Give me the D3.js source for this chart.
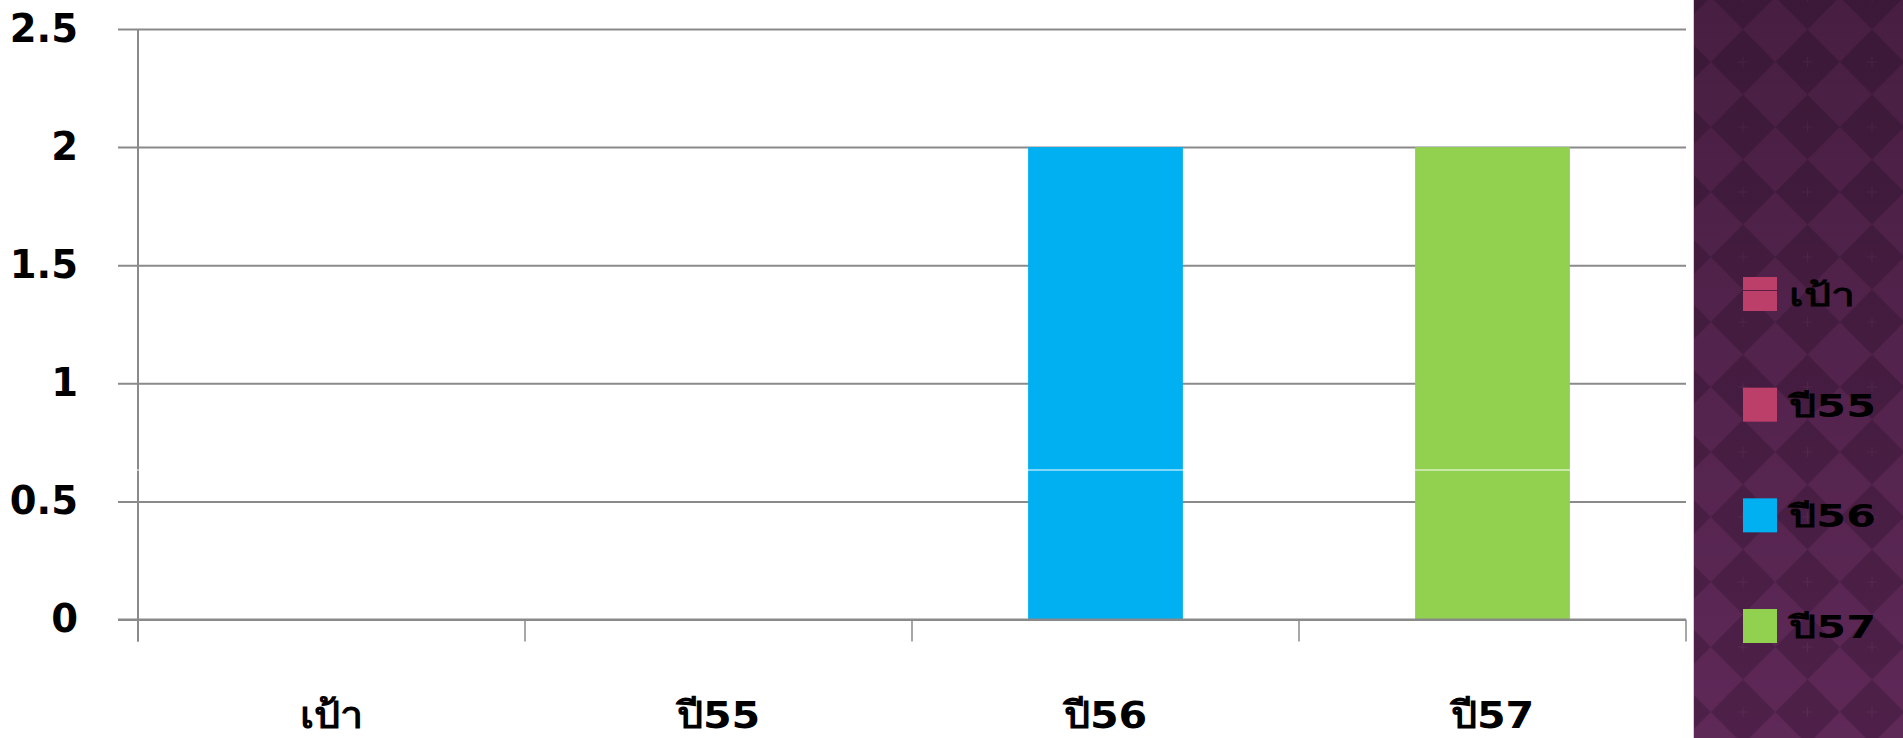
<!DOCTYPE html>
<html>
<head>
<meta charset="utf-8">
<script src="https://cdn.jsdelivr.net/npm/d3@7"></script>
<style>
  html, body { margin: 0; padding: 0; background: #ffffff; overflow: hidden; }
  svg { display: block; }
  text { font-family: "DejaVu Sans", "Noto Sans", sans-serif; font-weight: bold; fill: #000; }
</style>
</head>
<body>
<svg id="chart" width="1903" height="738"></svg>
<script>
// ---- data ----
const categories = ["เป้า", "ปี55", "ปี56", "ปี57"];
const values = [0, 0, 2, 2];
const seriesNames = ["เป้า", "ปี55", "ปี56", "ปี57"];
const seriesColors = ["#bc3f6a", "#bc3f6a", "#00b0f0", "#92d050"];
const yTicks = [0, 0.5, 1, 1.5, 2, 2.5];
const yTickLabels = ["0", "0.5", "1", "1.5", "2", "2.5"];

// ---- layout ----
const W = 1903, H = 738;
const plot = { left: 138, right: 1686, top: 29, bottom: 619.5 };
const panelX = 1694;

const svg = d3.select("#chart");

// background panel with diamond pattern
const defs = svg.append("defs");
const dw = 64.5;
const pat = defs.append("pattern")
  .attr("id", "diam")
  .attr("patternUnits", "userSpaceOnUse")
  .attr("width", dw).attr("height", 65)
  .attr("x", 1743 - dw / 2).attr("y", 62 - 32.5);
pat.append("rect").attr("width", dw).attr("height", 65).attr("fill", "#5e2857");
pat.append("polygon")
  .attr("points", `${dw/2},0 ${dw},32.5 ${dw/2},65 0,32.5`)
  .attr("fill", "#4e2049");
pat.append("path")
  .attr("d", `M${dw/2-5},32.5h10M${dw/2},27.5v10`)
  .attr("stroke", "#5a2a55").attr("stroke-width", 1.2);
const grad = defs.append("linearGradient").attr("id", "shade")
  .attr("x1", 0).attr("y1", 0).attr("x2", 0).attr("y2", 1);
grad.append("stop").attr("offset", 0).attr("stop-color", "#000").attr("stop-opacity", 0.24);
grad.append("stop").attr("offset", 1).attr("stop-color", "#000").attr("stop-opacity", 0.0);

svg.append("rect").attr("x", panelX).attr("y", 0).attr("width", W - panelX).attr("height", H).attr("fill", "url(#diam)");
svg.append("rect").attr("x", panelX).attr("y", 0).attr("width", W - panelX).attr("height", H).attr("fill", "url(#shade)");
svg.append("line").attr("x1", panelX - 0.5).attr("x2", panelX - 0.5).attr("y1", 0).attr("y2", H)
  .attr("stroke", "#d0d0d0").attr("stroke-width", 1);

// scales
const y = d3.scaleLinear().domain([0, 2.5]).range([plot.bottom, plot.top]);
const x = d3.scaleBand().domain(categories).range([plot.left, plot.right])
  .paddingInner(0.6).paddingOuter(0.3);
const xEdge = d3.scaleLinear().domain([0, categories.length]).range([plot.left, plot.right]);

// y axis with gridlines
const yAxis = d3.axisLeft(y).tickValues(yTicks)
  .tickSize(-(plot.right - plot.left)).tickPadding(0)
  .tickFormat((d, i) => yTickLabels[i]);
const gy = svg.append("g").attr("transform", `translate(${plot.left},0)`).call(yAxis);
gy.select(".domain").remove();
gy.selectAll(".tick line").attr("stroke", "#8a8a8a").attr("stroke-width", 2).attr("x1", -20);
gy.selectAll(".tick text").attr("x", 78 - plot.left).attr("dy", 12)
  .attr("text-anchor", "end").style("font-size", "38.5px")
  .style("font-family", '"DejaVu Sans", sans-serif').style("font-weight", "bold").attr("fill", "#000");

// bars
svg.append("g").selectAll("rect").data(categories).join("rect")
  .attr("x", d => x(d))
  .attr("width", x.bandwidth())
  .attr("y", (d, i) => y(values[i]))
  .attr("height", (d, i) => y(0) - y(values[i]))
  .attr("fill", (d, i) => seriesColors[i]);

// x axis line redraw on top
svg.append("line").attr("x1", plot.left - 20).attr("x2", plot.right)
  .attr("y1", y(0)).attr("y2", y(0)).attr("stroke", "#8a8a8a").attr("stroke-width", 2);
// y axis line
svg.append("line").attr("x1", plot.left).attr("x2", plot.left)
  .attr("y1", plot.top).attr("y2", plot.bottom + 22).attr("stroke", "#8a8a8a").attr("stroke-width", 2);
// x ticks at category boundaries
svg.append("g").selectAll("line").data(d3.range(categories.length + 1)).join("line")
  .attr("x1", d => xEdge(d)).attr("x2", d => xEdge(d))
  .attr("y1", plot.bottom).attr("y2", plot.bottom + 22)
  .attr("stroke", "#8a8a8a").attr("stroke-width", 1.5);
// x labels (slightly widened like the reference face)
svg.append("g").selectAll("g").data(categories).join("g")
  .attr("transform", d => `translate(${x(d) + x.bandwidth() / 2},728) scale(1.1,1)`)
  .append("text")
  .attr("text-anchor", "middle")
  .style("font-size", "37.5px")
  .text(d => d);

// image seam artifact
svg.append("line").attr("x1", plot.left - 2).attr("x2", plot.right)
  .attr("y1", 470).attr("y2", 470).attr("stroke", "#ffffff").attr("stroke-width", 1.2);

// legend
const leg = svg.append("g");
const legY = d3.scalePoint().domain(seriesNames).range([294, 626]);
leg.selectAll("rect").data(seriesNames).join("rect")
  .attr("x", 1743).attr("y", d => legY(d) - 17)
  .attr("width", 34).attr("height", 34)
  .attr("fill", (d, i) => seriesColors[i]);
leg.append("line").attr("x1", 1743).attr("x2", 1777)
  .attr("y1", legY(seriesNames[0]) - 3.5).attr("y2", legY(seriesNames[0]) - 3.5)
  .attr("stroke", "#5b1e44").attr("stroke-width", 1.2);
leg.selectAll("g.li").data(seriesNames).join("g").attr("class", "li")
  .attr("transform", d => `translate(1789,${legY(d) + 12}) scale(1.36,1)`)
  .append("text")
  .style("font-size", "31.5px")
  .text(d => d);
</script>
</body>
</html>
